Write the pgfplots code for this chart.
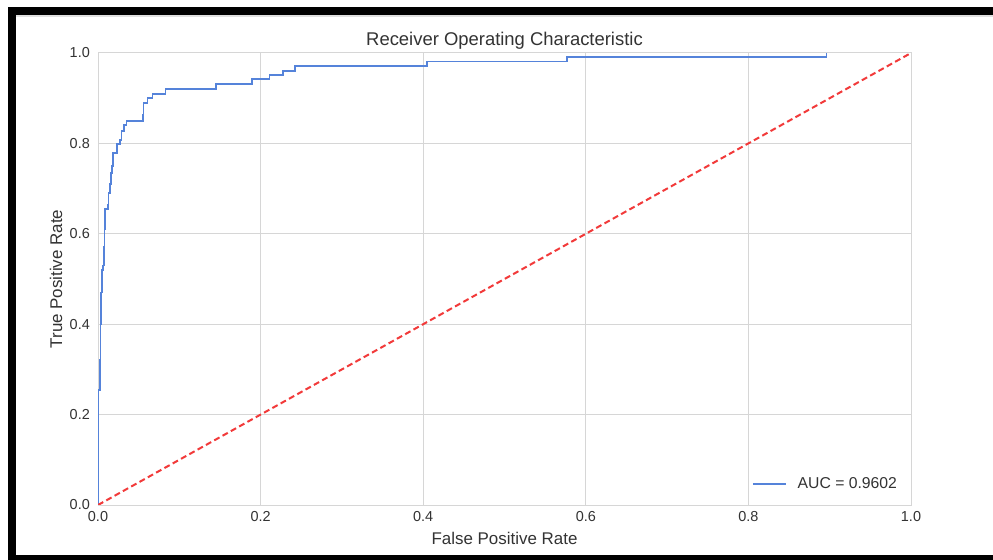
\documentclass[border=0pt]{standalone}
\usepackage{pgfplots}
\pgfplotsset{compat=1.18}
\usepackage{fontspec}
\setmainfont{Liberation Sans}
\definecolor{gridc}{HTML}{D6D6D6}
\definecolor{txt}{HTML}{333333}
\definecolor{roc}{HTML}{5583DA}
\definecolor{diag}{HTML}{F23A3A}
\begin{document}
\begin{tikzpicture}
\fill[white] (0bp,0bp) rectangle (993bp,560bp);
% screenshot frame
\fill[black] (8bp,0bp) rectangle (16bp,553bp);
\fill[black] (8bp,545bp) rectangle (993bp,553bp);
\fill[black] (8bp,0bp) rectangle (993bp,4.5bp);
\fill[black!12] (16bp,543bp) rectangle (993bp,545bp);
\begin{axis}[
  at={(98bp,55bp)}, anchor=south west,
  scale only axis, width=813bp, height=452bp,
  xmin=0, xmax=1, ymin=0, ymax=1,
  xtick={0,0.2,0.4,0.6,0.8,1}, ytick={0,0.2,0.4,0.6,0.8,1},
  xticklabels={0.0,0.2,0.4,0.6,0.8,1.0},
  yticklabels={0.0,0.2,0.4,0.6,0.8,1.0},
  grid=major,
  major grid style={draw=gridc, line width=1bp},
  axis line style={draw=gridc, line width=1bp},
  major tick length=0pt, tick style={draw=none},
  ticklabel style={font=\fontsize{14.5}{17}\selectfont, text=txt},
  xticklabel style={anchor=north, inner sep=0pt, yshift=-6bp},
  yticklabel style={anchor=east, inner sep=0pt, xshift=-8bp},
  title={Receiver Operating Characteristic},
  title style={at={([yshift=2bp]axis description cs:0.5,1)}, anchor=base, inner sep=0pt, font=\fontsize{18.5}{22}\selectfont, text=txt},
  xlabel={False Positive Rate},
  xlabel style={at={([yshift=-39bp]axis description cs:0.5,0)}, anchor=base, inner sep=0pt, font=\fontsize{17}{20}\selectfont, text=txt},
  ylabel={True Positive Rate},
  ylabel style={at={([xshift=-36bp]axis description cs:0,0.5)}, anchor=base, inner sep=0pt, font=\fontsize{17}{20}\selectfont, text=txt},
  legend style={at={([xshift=-14bp,yshift=15bp]axis description cs:1,0)}, anchor=south east,
    draw=none, fill=none, inner sep=0pt, outer sep=0pt, column sep=11bp,
    nodes={inner sep=0pt, text=txt}, font=\fontsize{15.8}{18}\selectfont},
  legend image code/.code={\draw[#1] (0bp,0bp) -- (33bp,0bp);},
]
\addplot[roc, line width=1.8bp] coordinates {
(0,0) (0,0.255) (0.002,0.255) (0.002,0.32) (0.003,0.32) (0.003,0.40) (0.004,0.40)
(0.004,0.47) (0.005,0.47) (0.005,0.52) (0.006,0.52) (0.006,0.53) (0.007,0.53)
(0.007,0.57) (0.008,0.57) (0.008,0.61) (0.009,0.61) (0.009,0.655) (0.012,0.655)
(0.012,0.665) (0.013,0.665) (0.013,0.69) (0.015,0.69) (0.015,0.71) (0.016,0.71)
(0.016,0.735) (0.017,0.735) (0.017,0.75) (0.018,0.75) (0.018,0.778) (0.023,0.778)
(0.023,0.798) (0.027,0.798) (0.027,0.807) (0.029,0.807) (0.029,0.827) (0.032,0.827)
(0.032,0.84) (0.035,0.84) (0.035,0.85) (0.055,0.85) (0.055,0.863) (0.056,0.863)
(0.056,0.89) (0.061,0.89) (0.061,0.90) (0.067,0.90) (0.067,0.91) (0.083,0.91)
(0.083,0.92) (0.145,0.92) (0.145,0.932) (0.189,0.932) (0.189,0.942) (0.211,0.942)
(0.211,0.952) (0.228,0.952) (0.228,0.961) (0.242,0.961) (0.242,0.971) (0.405,0.971)
(0.405,0.981) (0.577,0.981) (0.577,0.991) (0.896,0.991) (0.896,1.0)
};
\addlegendentry{AUC = 0.9602}
\addplot[diag, line width=2bp, dash pattern=on 6bp off 3.5bp, forget plot] coordinates {(0,0) (1,1)};
\end{axis}
\end{tikzpicture}
\end{document}
